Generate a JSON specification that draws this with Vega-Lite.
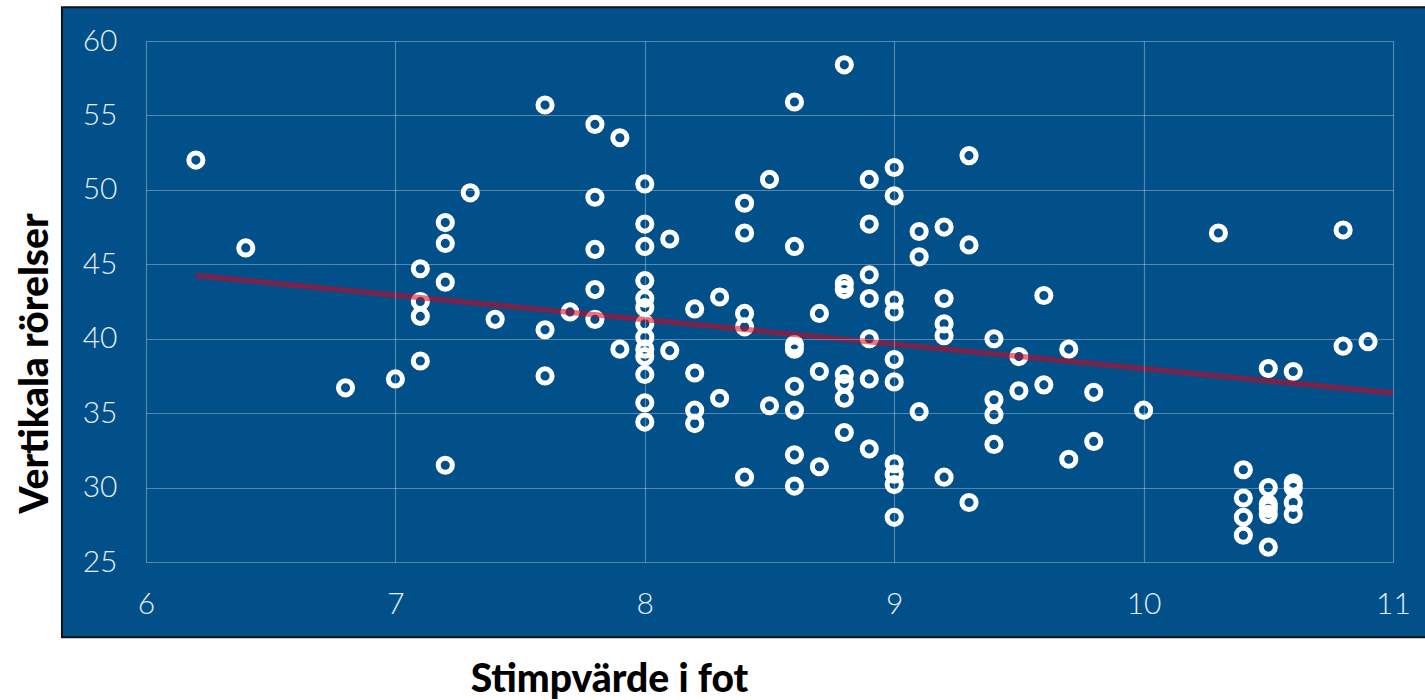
{
  "$schema": "https://vega.github.io/schema/vega-lite/v6.json",
  "width": 1247,
  "height": 521,
  "autosize": {"type": "none"},
  "padding": {"left": 146, "top": 41, "right": 32, "bottom": 138},
  "background": "#ffffff",
  "config": {
    "view": {"stroke": null},
    "font": "Lato",
    "axis": {
      "grid": true,
      "gridColor": "#ffffff",
      "gridOpacity": 0.32,
      "gridWidth": 1.2,
      "domain": false,
      "ticks": false,
      "labelColor": "#e6edf5",
      "labelFont": "Lato",
      "labelFontWeight": 300,
      "labelFontSize": 30,
      "labelFlush": false,
      "titleFont": "Lato",
      "titleFontWeight": 900,
      "titleFontSize": 39,
      "titleColor": "#000000"
    }
  },
  "datasets": {
    "points": [
      {"x": 6.2, "y": 52.0}, {"x": 6.4, "y": 46.1}, {"x": 6.8, "y": 36.7}, {"x": 7.0, "y": 37.3},
      {"x": 7.1, "y": 44.7}, {"x": 7.1, "y": 42.5}, {"x": 7.1, "y": 41.5}, {"x": 7.1, "y": 38.5},
      {"x": 7.2, "y": 47.8}, {"x": 7.2, "y": 46.4}, {"x": 7.2, "y": 43.8}, {"x": 7.2, "y": 31.5},
      {"x": 7.3, "y": 49.8}, {"x": 7.4, "y": 41.3},
      {"x": 7.6, "y": 55.7}, {"x": 7.6, "y": 40.6}, {"x": 7.6, "y": 37.5},
      {"x": 7.7, "y": 41.8},
      {"x": 7.8, "y": 54.4}, {"x": 7.8, "y": 49.5}, {"x": 7.8, "y": 46.0}, {"x": 7.8, "y": 43.3}, {"x": 7.8, "y": 41.3},
      {"x": 7.9, "y": 53.5}, {"x": 7.9, "y": 39.3},
      {"x": 8.0, "y": 50.4}, {"x": 8.0, "y": 47.7}, {"x": 8.0, "y": 46.2}, {"x": 8.0, "y": 43.9}, {"x": 8.0, "y": 42.7},
      {"x": 8.0, "y": 42.1}, {"x": 8.0, "y": 41.0}, {"x": 8.0, "y": 40.1}, {"x": 8.0, "y": 39.3}, {"x": 8.0, "y": 38.8},
      {"x": 8.0, "y": 37.6}, {"x": 8.0, "y": 35.7}, {"x": 8.0, "y": 34.4},
      {"x": 8.1, "y": 46.7}, {"x": 8.1, "y": 39.2},
      {"x": 8.2, "y": 42.0}, {"x": 8.2, "y": 37.7}, {"x": 8.2, "y": 35.2}, {"x": 8.2, "y": 34.3},
      {"x": 8.3, "y": 42.8}, {"x": 8.3, "y": 36.0},
      {"x": 8.4, "y": 49.1}, {"x": 8.4, "y": 47.1}, {"x": 8.4, "y": 41.7}, {"x": 8.4, "y": 40.8}, {"x": 8.4, "y": 30.7},
      {"x": 8.5, "y": 50.7}, {"x": 8.5, "y": 35.5},
      {"x": 8.6, "y": 55.9}, {"x": 8.6, "y": 46.2}, {"x": 8.6, "y": 39.6}, {"x": 8.6, "y": 39.3}, {"x": 8.6, "y": 36.8},
      {"x": 8.6, "y": 35.2}, {"x": 8.6, "y": 32.2}, {"x": 8.6, "y": 30.1},
      {"x": 8.7, "y": 41.7}, {"x": 8.7, "y": 37.8}, {"x": 8.7, "y": 31.4},
      {"x": 8.8, "y": 58.4}, {"x": 8.8, "y": 43.7}, {"x": 8.8, "y": 43.3}, {"x": 8.8, "y": 37.6}, {"x": 8.8, "y": 37.0},
      {"x": 8.8, "y": 36.0}, {"x": 8.8, "y": 33.7},
      {"x": 8.9, "y": 50.7}, {"x": 8.9, "y": 47.7}, {"x": 8.9, "y": 44.3}, {"x": 8.9, "y": 42.7}, {"x": 8.9, "y": 40.0},
      {"x": 8.9, "y": 37.3}, {"x": 8.9, "y": 32.6},
      {"x": 9.0, "y": 51.5}, {"x": 9.0, "y": 49.6}, {"x": 9.0, "y": 42.6}, {"x": 9.0, "y": 41.8}, {"x": 9.0, "y": 38.6},
      {"x": 9.0, "y": 37.1}, {"x": 9.0, "y": 31.6}, {"x": 9.0, "y": 30.9}, {"x": 9.0, "y": 30.2}, {"x": 9.0, "y": 28.0},
      {"x": 9.1, "y": 47.2}, {"x": 9.1, "y": 45.5}, {"x": 9.1, "y": 35.1},
      {"x": 9.2, "y": 47.5}, {"x": 9.2, "y": 42.7}, {"x": 9.2, "y": 41.0}, {"x": 9.2, "y": 40.2}, {"x": 9.2, "y": 30.7},
      {"x": 9.3, "y": 52.3}, {"x": 9.3, "y": 46.3}, {"x": 9.3, "y": 29.0},
      {"x": 9.4, "y": 40.0}, {"x": 9.4, "y": 35.9}, {"x": 9.4, "y": 34.9}, {"x": 9.4, "y": 32.9},
      {"x": 9.5, "y": 38.8}, {"x": 9.5, "y": 36.5},
      {"x": 9.6, "y": 42.9}, {"x": 9.6, "y": 36.9},
      {"x": 9.7, "y": 39.3}, {"x": 9.7, "y": 31.9},
      {"x": 9.8, "y": 36.4}, {"x": 9.8, "y": 33.1},
      {"x": 10.0, "y": 35.2},
      {"x": 10.3, "y": 47.1},
      {"x": 10.4, "y": 31.2}, {"x": 10.4, "y": 29.3}, {"x": 10.4, "y": 28.0}, {"x": 10.4, "y": 26.8},
      {"x": 10.5, "y": 38.0}, {"x": 10.5, "y": 30.0}, {"x": 10.5, "y": 28.9}, {"x": 10.5, "y": 28.6}, {"x": 10.5, "y": 28.2}, {"x": 10.5, "y": 26.0},
      {"x": 10.6, "y": 37.8}, {"x": 10.6, "y": 30.3}, {"x": 10.6, "y": 30.0}, {"x": 10.6, "y": 29.0}, {"x": 10.6, "y": 28.2},
      {"x": 10.8, "y": 47.3}, {"x": 10.8, "y": 39.5},
      {"x": 10.9, "y": 39.8}
    ],
    "fit": [
      {"x": 6.2, "y": 44.24},
      {"x": 11.0, "y": 36.35}
    ]
  },
  "layer": [
    {
      "data": {"values": [{}]},
      "mark": {"type": "rect", "fill": "#01508a", "stroke": "#111111", "strokeWidth": 2, "clip": false},
      "encoding": {
        "x": {"datum": 5.663, "type": "quantitative"},
        "x2": {"datum": 11.3},
        "y": {"datum": 62.26, "type": "quantitative"},
        "y2": {"datum": 19.94}
      }
    },
    {
      "data": {"name": "points"},
      "mark": {"type": "point", "shape": "circle", "filled": false, "color": "#ffffff", "strokeWidth": 5, "size": 200, "opacity": 1},
      "encoding": {
        "x": {
          "field": "x", "type": "quantitative",
          "scale": {"domain": [6, 11], "nice": false, "zero": false},
          "axis": {
            "zindex": 1,
            "values": [6, 7, 8, 9, 10, 11],
            "format": "d",
            "labelPadding": 27,
            "title": "Stimpvärde i fot",
            "titleX": 463,
            "titleY": 129,
            "titleAlign": "center",
            "titleBaseline": "alphabetic"
          }
        },
        "y": {
          "field": "y", "type": "quantitative",
          "scale": {"domain": [25, 60], "nice": false, "zero": false},
          "axis": {
            "zindex": 1,
            "values": [25, 30, 35, 40, 45, 50, 55, 60],
            "format": "d",
            "labelPadding": 29,
            "title": "Vertikala rörelser",
            "titleX": -99,
            "titleY": 322,
            "titleAngle": -90,
            "titleAlign": "center",
            "titleBaseline": "alphabetic"
          }
        }
      }
    },
    {
      "data": {"name": "fit"},
      "mark": {"type": "line", "color": "#d9001b", "opacity": 0.55, "strokeWidth": 5.5, "strokeCap": "butt"},
      "encoding": {
        "x": {"field": "x", "type": "quantitative"},
        "y": {"field": "y", "type": "quantitative"}
      }
    }
  ]
}
